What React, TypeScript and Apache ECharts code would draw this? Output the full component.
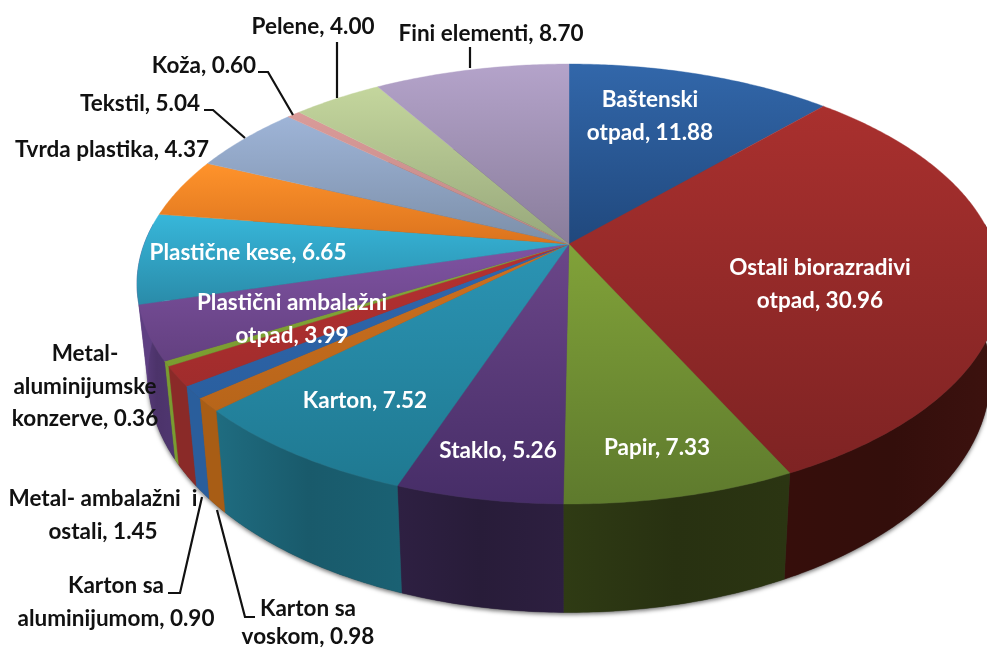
import React, { useEffect, useRef } from "react";
import * as echarts from "echarts";

const categories = [
  "Baštenski\notpad", "Ostali biorazradivi\notpad", "Papir", "Staklo", "Karton",
  "Karton sa\nvoskom", "Karton sa\naluminijumom", "Metal- ambalažni  i\nostali",
  "Metal-\naluminijumske\nkonzerve", "Plastični ambalažni\notpad", "Plastične kese",
  "Tvrda plastika", "Tekstil", "Koža", "Pelene", "Fini elementi",
];
const values = [11.88, 30.96, 7.33, 5.26, 7.52, 0.98, 0.9, 1.45, 0.36, 3.99, 6.65, 4.37, 5.04, 0.6, 4.0, 8.7];

const topLight = ["#3267aa", "#a9302e", "#81a239", "#6b4689", "#2b94b4", "#cf701f", "#2f67af", "#b73131", "#86a93a", "#7f53a2", "#37b7da", "#ff932b", "#9eb4d7", "#da9b99", "#c4d69d", "#b4a3ca"];
const topDark = ["#20487d", "#7e2323", "#5e7a2d", "#462d67", "#1f7991", "#b7651a", "#2a5f9f", "#a02c2c", "#7a9c30", "#634080", "#2a8ba9", "#db731e", "#7c8fa9", "#bf8785", "#97a77b", "#897d9b"];
const sideA = ["#1a3355", "#360e0b", "#2f3b14", "#2e2042", "#1f6c80", "#a85d15", "#2a5e9c", "#8a2a28", "#7a9c30", "#5e3f82", "#5e3f82", "#b0601a", "#6f7f96", "#a87876", "#86946c", "#7a6f8a"];
const sideB = ["#1a3355", "#3d120f", "#2b3512", "#2d1f40", "#1a6173", "#a85d15", "#2a5e9c", "#8a2a28", "#7a9c30", "#4f3670", "#5e3f82", "#b0601a", "#6f7f96", "#a87876", "#86946c", "#7a6f8a"];

const total = values.reduce((s, v) => s + v, 0);
const starts: number[] = [];
values.reduce((s, v, i) => ((starts[i] = s), s + v), 0);

// perspective disc: top face and (lower, slightly narrower) bottom face
const CX = 569;
const P = 0.1818;
const A = 424.8;
const B = 212.7;
const TOP_Y = 244;
const BOT_Y = 333;
const BOT_XS = 0.975;
const BOT_YS = 1.075;

const rim = (t: number, bottom: boolean): number[] => {
  const X = Math.sin(t);
  const Y = -Math.cos(t);
  const d = 1 - P * Y;
  const x = (A * X) / d;
  const y = (B * Y) / d;
  return bottom ? [CX + x * BOT_XS, BOT_Y + y * BOT_YS] : [CX + x, TOP_Y + y];
};
const toAngle = (v: number) => (v / total) * Math.PI * 2;
const arcAngles = (t0: number, t1: number) => {
  const n = Math.max(2, Math.ceil((t1 - t0) / 0.01));
  return Array.from({ length: n + 1 }, (_, i) => t0 + ((t1 - t0) * i) / n);
};

const renderTop = (_p: any, api: any) => {
  const i = _p.dataIndex;
  const t0 = toAngle(starts[i]);
  const t1 = toAngle(starts[i] + api.value(0));
  const arc = arcAngles(t0, t1);
  const fill = new echarts.graphic.LinearGradient(0, 0, 0, 1, [
    { offset: 0, color: topLight[i] },
    { offset: 1, color: topDark[i] },
  ]);
  return {
    type: "polygon",
    shape: { points: [[CX, TOP_Y], ...arc.map((t) => rim(t, false))] },
    style: { fill, stroke: fill, lineWidth: 0.4 },
  };
};

const renderSide = (_p: any, api: any) => {
  const i = _p.dataIndex;
  const t0 = toAngle(starts[i]);
  const t1 = toAngle(starts[i] + api.value(0));
  const arc = arcAngles(t0, t1).filter((t) => -Math.cos(t) > -0.1);
  if (arc.length < 2) return null;
  const fill = new echarts.graphic.LinearGradient(0, 0, 1, 0, [
    { offset: 0, color: sideA[i] },
    { offset: 0.5, color: sideB[i] === sideA[i] ? sideA[i] : "#" + sideMid(sideA[i], sideB[i]) },
    { offset: 1, color: sideB[i] },
  ]);
  const outer = arc.map((t) => rim(t, false));
  const inner = arc.slice().reverse().map((t) => rim(t, true));
  return {
    type: "polygon",
    shape: { points: [...outer, ...inner] },
    style: { fill, stroke: fill, lineWidth: 0.4 },
  };
};
// the middle of a side face falls a little darker than either edge
function sideMid(a: string, b: string) {
  const ch = (c: string, k: number) => parseInt(c.slice(k, k + 2), 16);
  return [1, 3, 5]
    .map((k) => Math.round(((ch(a, k) + ch(b, k)) / 2) * 0.88).toString(16).padStart(2, "0"))
    .join("");
}

const renderShadow = () => ({
  type: "polygon",
  shape: { points: arcAngles(0, Math.PI * 2).map((t) => rim(t, true)) },
  style: { fill: "#444", shadowBlur: 4, shadowColor: "rgba(0,0,0,0.55)", shadowOffsetY: 2 },
});

const white = "#ffffff";
const black = "#111111";
// label anchor (centre of the block) for each category, in category order
const labelX = [650, 820, 657, 498, 365, 308, 116, 103, 85, 292, 248, 112, 140, 204, 313, 491];
const labelY = [115, 283, 446, 449, 399, 621, 601, 514, 385, 318, 251, 148, 102, 64, 25, 32];
const labelLine = [32.5, 32.5, 32.5, 32.5, 32.5, 28, 32.5, 32.5, 32.5, 32.5, 32.5, 32.5, 32.5, 32.5, 32.5, 32.5];
const leaders = [
  [[470, 47], [470, 68]],
  [[337, 42], [337, 98]],
  [[258, 72], [268, 72], [293, 115]],
  [[204, 110], [213, 110], [245, 138]],
  [[168, 593], [180, 593], [202, 497]],
  [[255, 617], [245, 617], [217, 510]],
];

const isInside = (i: number) => [0, 1, 2, 3, 4, 9, 10].includes(i);

export default function App() {
  const ref = useRef<HTMLDivElement>(null);
  useEffect(() => {
    document.body.style.margin = "0";
    const chart = echarts.init(ref.current!, null, { renderer: "svg" });
    chart.setOption({
      animation: false,
      backgroundColor: "#ffffff",
      series: [
        { type: "custom", coordinateSystem: "none", z: 1, silent: true, data: [1], renderItem: renderShadow },
        { type: "custom", coordinateSystem: "none", z: 2, silent: true, data: values.map((v) => [v]), renderItem: renderSide },
        { type: "custom", coordinateSystem: "none", z: 3, silent: true, data: values.map((v) => [v]), renderItem: renderTop },
      ],
      graphic: {
        elements: [
          ...leaders.map((pts) => ({
            type: "polyline",
            z: 10,
            shape: { points: pts },
            style: { fill: "none", stroke: "#111", lineWidth: 2.2 },
          })),
          ...categories.map((c, i) => ({
            type: "text",
            z: 11,
            x: labelX[i],
            y: labelY[i],
            style: {
              text: `${c}, ${values[i].toFixed(2)}`,
              fill: isInside(i) ? white : black,
              font: "700 22.5px Lato",
              lineHeight: labelLine[i],
              align: "center",
              verticalAlign: "middle",
            },
          })),
        ],
      },
    });
    return () => chart.dispose();
  }, []);
  return <div ref={ref} style={{ position: "fixed", left: 0, top: 0, width: 987, height: 650, overflow: "hidden", filter: "blur(0.6px)" }} />;
}
